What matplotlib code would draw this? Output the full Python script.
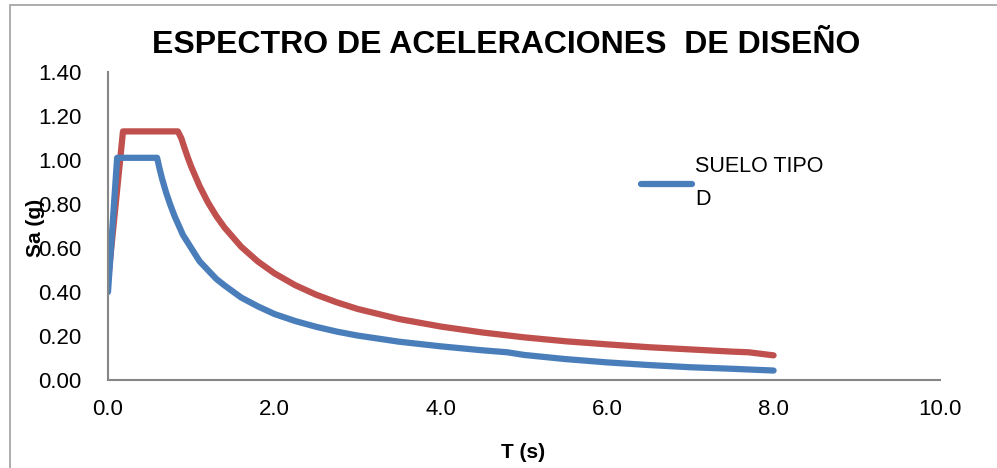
import matplotlib.pyplot as plt
from matplotlib.patches import Rectangle

# Espectro suelo tipo D (curva azul)
t_azul = [0.0, 0.11, 0.59, 0.62, 0.65, 0.7, 0.75, 0.8, 0.9, 1.0, 1.1, 1.2, 1.3, 1.4,
          1.6, 1.8, 2.0, 2.25, 2.5, 2.75, 3.0, 3.5, 4.0, 4.5, 4.8,
          5.0, 5.5, 6.0, 6.5, 7.0, 7.5, 8.0]
sa_azul = [0.40, 1.01, 1.01, 0.96, 0.915, 0.85, 0.795, 0.745, 0.66, 0.60, 0.54, 0.50, 0.46, 0.43,
           0.375, 0.335, 0.30, 0.268, 0.242, 0.22, 0.202, 0.174, 0.153, 0.135, 0.126,
           0.114, 0.095, 0.080, 0.068, 0.058, 0.051, 0.043]

# Segunda curva (roja)
t_rojo = [0.0, 0.18, 0.84, 0.88, 0.92, 0.96, 1.0, 1.1, 1.2, 1.3, 1.4, 1.6, 1.8, 2.0,
          2.25, 2.5, 2.75, 3.0, 3.5, 4.0, 4.5, 5.0, 5.5, 6.0, 6.5, 7.0, 7.5, 7.7, 8.0]
sa_rojo = [0.45, 1.13, 1.13, 1.10, 1.054, 1.01, 0.97, 0.882, 0.808, 0.746, 0.693, 0.606, 0.539, 0.485,
           0.431, 0.388, 0.353, 0.323, 0.277, 0.243, 0.216, 0.194, 0.176, 0.162, 0.149, 0.139,
           0.129, 0.126, 0.112]

plt.rcParams['font.family'] = ['Liberation Sans', 'DejaVu Sans']

fig = plt.figure(figsize=(9.97, 4.68), dpi=100)
fig.patches.append(Rectangle((10 / 997, -0.1), 1.2, 1.1 - 5 / 468, transform=fig.transFigure,
                             fill=False, edgecolor='#a0a0a0', linewidth=1.2))

ax = fig.add_axes([108 / 997, 1 - 380 / 468, (940 - 108) / 997, (380 - 72) / 468])

ax.plot(t_rojo, sa_rojo, color='#C0504D', lw=4.5, solid_capstyle='round', solid_joinstyle='round')
ax.plot(t_azul, sa_azul, color='#4A7EBB', lw=4.5, solid_capstyle='round', solid_joinstyle='round',
        label='SUELO TIPO\nD')

ax.set_xlim(0, 10)
ax.set_ylim(0, 1.4)
ax.set_xticks([0, 2, 4, 6, 8, 10])
ax.set_xticklabels(['0.0', '2.0', '4.0', '6.0', '8.0', '10.0'])
ax.set_yticks([0, 0.2, 0.4, 0.6, 0.8, 1.0, 1.2, 1.4])
ax.set_yticklabels(['%.2f' % v for v in ax.get_yticks()])
ax.tick_params(length=0, labelsize=16, colors='black')
ax.tick_params(axis='x', pad=14)
ax.tick_params(axis='y', pad=19)

for s in ['top', 'right']:
    ax.spines[s].set_visible(False)
for s in ['left', 'bottom']:
    ax.spines[s].set_color('#868686')
    ax.spines[s].set_linewidth(1.5)

fig.text(506 / 997, 1 - 45 / 468, 'ESPECTRO DE ACELERACIONES  DE DISEÑO', ha='center', va='center',
         fontsize=23, fontweight='bold')
fig.text(35 / 997, 1 - 228 / 468, 'Sa (g)', rotation=90, ha='center', va='center',
         fontsize=15, fontweight='bold')
fig.text(523 / 997, 1 - 452 / 468, 'T (s)', ha='center', va='center',
         fontsize=15, fontweight='bold')

leg = ax.legend(loc='upper left', bbox_to_anchor=(0.617, 0.79), frameon=False, fontsize=15.5,
                handlelength=2.4, handletextpad=0.12)
leg.get_texts()[0].set_linespacing(1.75)

fig.savefig('out.png', dpi=100)
